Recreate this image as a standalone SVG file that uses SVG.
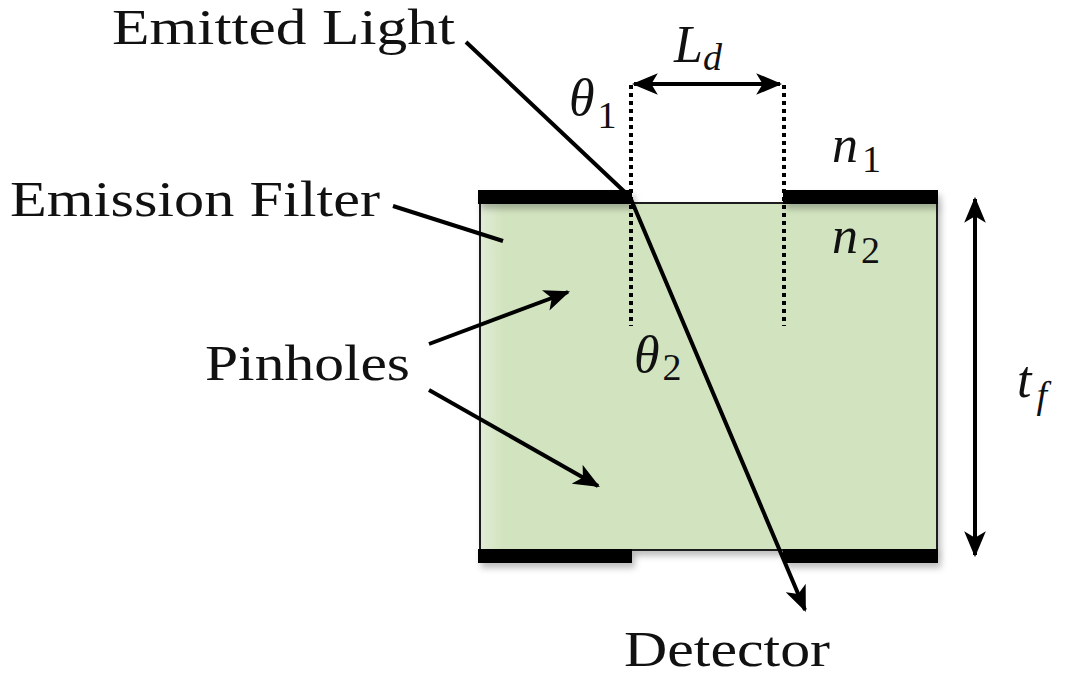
<svg xmlns="http://www.w3.org/2000/svg" width="1070" height="677" viewBox="0 0 1070 677">
<style>
text{font-family:'Liberation Serif','Times New Roman','DejaVu Serif',serif;fill:#111}
.lbl{font-size:50px}
.math{font-style:italic;font-size:52px}
.sub{font-style:normal;font-size:38px}
.subi{font-style:italic;font-size:38px}
.ln{stroke:#000;stroke-width:4;fill:none}
.dot{stroke:#000;stroke-width:4;stroke-dasharray:4 4;fill:none}
.bar{fill:#000}
</style>
<defs>
<marker id="ah" viewBox="0 0 12 10" refX="11" refY="5" markerWidth="6.5" markerHeight="5.5" orient="auto-start-reverse" markerUnits="strokeWidth">
<path d="M0,0 L12,5 L0,10 L3,5 Z" fill="#000"/>
</marker>
<filter id="sh" x="-10%" y="-10%" width="120%" height="130%">
<feDropShadow dx="3" dy="5" stdDeviation="3" flood-color="#000" flood-opacity="0.25"/>
</filter>
<linearGradient id="gf" x1="0" y1="0" x2="1" y2="0">
<stop offset="0" stop-color="#e2ecd6"/>
<stop offset="0.05" stop-color="#d2e4bf"/>
<stop offset="1" stop-color="#d2e4bf"/>
</linearGradient>
</defs>
<rect width="1070" height="677" fill="#fff"/>

<g id="filter">
<rect x="480" y="203" width="457" height="347" fill="url(#gf)" stroke="#1a1a1a" stroke-width="2" filter="url(#sh)"/>
</g>
<g id="pinhole-bars" filter="url(#sh)">
<rect class="bar" x="478" y="190" width="154" height="14"/>
<rect class="bar" x="783" y="190" width="155" height="14"/>
<rect class="bar" x="478" y="549" width="154" height="14"/>
<rect class="bar" x="783" y="549" width="155" height="14"/>
</g>

<g id="connectors">
<line class="dot" x1="631" y1="85" x2="631" y2="326"/>
<line class="dot" x1="784" y1="85" x2="784" y2="326"/>
<line class="ln" x1="634" y1="84" x2="780" y2="84" stroke-width="3.5" marker-start="url(#ah)" marker-end="url(#ah)"/>
<line class="ln" x1="975" y1="199" x2="975" y2="555" stroke-width="3.5" marker-start="url(#ah)" marker-end="url(#ah)"/>
<polyline class="ln" points="466,42 630,197 805,610" marker-end="url(#ah)"/>
<line class="ln" x1="393" y1="206" x2="503" y2="241"/>
<line class="ln" x1="429" y1="344" x2="568" y2="292" marker-end="url(#ah)"/>
<line class="ln" x1="429" y1="390" x2="598" y2="486" marker-end="url(#ah)"/>
</g>

<g id="label-emitted"><text class="lbl" x="112" y="44" textLength="343" lengthAdjust="spacingAndGlyphs">Emitted Light</text></g>
<g id="label-filter"><text class="lbl" x="10" y="216" textLength="370" lengthAdjust="spacingAndGlyphs">Emission Filter</text></g>
<g id="label-pinholes"><text class="lbl" x="205" y="380" textLength="205" lengthAdjust="spacingAndGlyphs">Pinholes</text></g>
<g id="label-detector"><text class="lbl" x="624" y="666" textLength="206" lengthAdjust="spacingAndGlyphs">Detector</text></g>

<g id="label-Ld"><text class="math" x="674" y="62">L<tspan class="subi" dy="8">d</tspan></text></g>
<g id="label-theta1"><text class="math" x="569" y="115" font-size="50">θ<tspan class="sub" dx="3" dy="13">1</tspan></text></g>
<g id="label-theta2"><text class="math" x="634" y="372" font-size="50">θ<tspan class="sub" dx="3" dy="8">2</tspan></text></g>
<g id="label-n1"><text class="math" x="832" y="162" font-size="54">n<tspan class="sub" dx="4" dy="10">1</tspan></text></g>
<g id="label-n2"><text class="math" x="832" y="253" font-size="54">n<tspan class="sub" dx="3" dy="10">2</tspan></text></g>
<g id="label-tf"><text class="math" x="1017" y="397">t<tspan class="subi" dx="5" dy="11">f</tspan></text></g>
</svg>
